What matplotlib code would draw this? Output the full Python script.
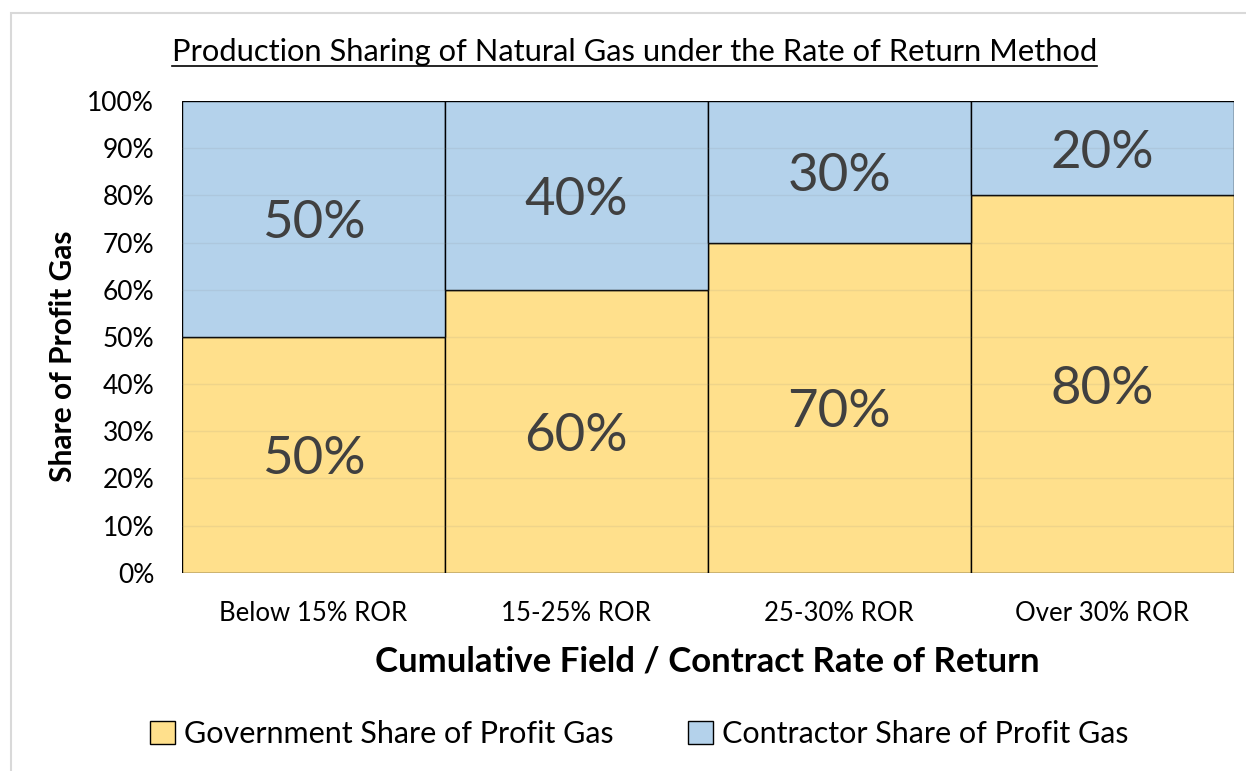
import numpy as np
import matplotlib.pyplot as plt
from matplotlib.patches import Rectangle
from matplotlib.ticker import PercentFormatter

plt.rcParams['font.family'] = ['Lato', 'DejaVu Sans']

# data
categories = ['Below 15% ROR', '15-25% ROR', '25-30% ROR', 'Over 30% ROR']
government = [50, 60, 70, 80]
contractor = [50, 40, 30, 20]
series_names = ['Government Share of Profit Gas', 'Contractor Share of Profit Gas']

gov_color = '#FFE08C'
con_color = '#B4D2EB'
label_color = '#404040'

fig = plt.figure(figsize=(12.46, 7.71), dpi=100)
ax = fig.add_axes([0.146, 0.257, 0.844, 0.612])

# light frame round the whole chart
fig.patches.append(Rectangle((0.009, -0.01), 1.0, 0.993, transform=fig.transFigure,
                             fill=False, edgecolor='#d9d9d9', linewidth=1.5))

x = np.arange(len(categories))
b1 = ax.bar(x, government, width=1.0, color=gov_color, edgecolor='black', linewidth=1.0,
            label=series_names[0], zorder=2)
b2 = ax.bar(x, contractor, width=1.0, bottom=government, color=con_color, edgecolor='black',
            linewidth=1.0, label=series_names[1], zorder=2)

# faint gridlines showing through the bars
for yv in range(10, 100, 10):
    ax.axhline(yv, color='#7f7f7f', alpha=0.12, linewidth=1.0, zorder=3)

# segment labels (nudged down a few pixels to sit like the original)
for i in range(len(categories)):
    ax.annotate(f'{government[i]}%', (x[i], government[i] / 2), xytext=(0, -5),
                textcoords='offset pixels', ha='center', va='center',
                fontsize=38, color=label_color, zorder=4)
    ax.annotate(f'{contractor[i]}%', (x[i], government[i] + contractor[i] / 2), xytext=(0, -5),
                textcoords='offset pixels', ha='center', va='center',
                fontsize=38, color=label_color, zorder=4)

ax.set_xlim(-0.5, 3.5)
ax.set_ylim(0, 100)
ax.set_yticks(range(0, 101, 10))
ax.yaxis.set_major_formatter(PercentFormatter(decimals=0))
ax.set_xticks(x)
ax.set_xticklabels(categories, fontsize=18.5)
ax.tick_params(axis='y', labelsize=19, length=0, pad=20)
ax.tick_params(axis='x', length=0, pad=20)
for s in ax.spines.values():
    s.set_visible(False)

ax.set_ylabel('Share of Profit Gas', fontsize=21.5, fontweight='bold')
ax.yaxis.set_label_coords(-0.100, 0.458)
ax.set_xlabel('Cumulative Field / Contract Rate of Return', fontsize=25, fontweight='bold',
              labelpad=14)

title = fig.text(0.509, 0.933, 'Production Sharing of Natural Gas under the Rate of Return Method',
                 ha='center', va='center', fontsize=22.2)
# underline, matched to the title's width
fig.canvas.draw()
bb = title.get_window_extent().transformed(fig.transFigure.inverted())
fig.add_artist(plt.Line2D([bb.x0, bb.x1], [0.914, 0.914], color='black', linewidth=1.2))

fig.legend(handles=[b1, b2], labels=series_names, loc='center', bbox_to_anchor=(0.513, 0.048),
           ncol=2, frameon=False, fontsize=22, handlelength=0.8, handleheight=0.8,
           handletextpad=0.3, columnspacing=2.45)

fig.savefig('out.png', dpi=100)
